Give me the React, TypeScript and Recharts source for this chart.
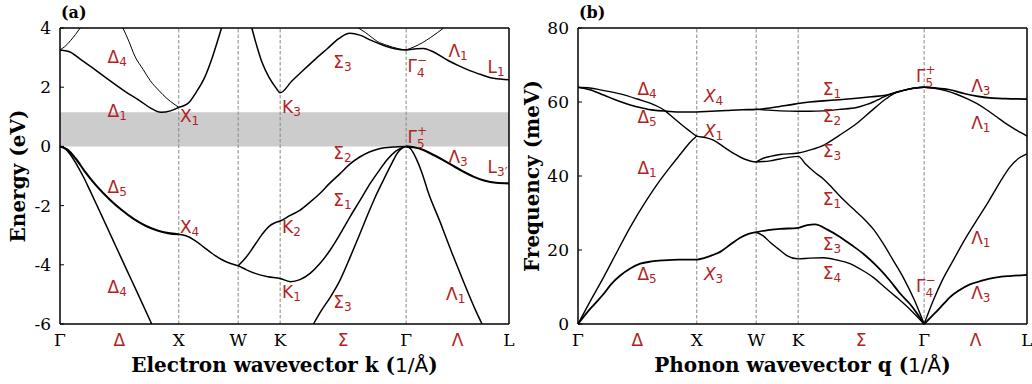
import React from "react";
import {
  LineChart,
  Line,
  XAxis,
  YAxis,
  ReferenceArea,
  ReferenceDot,
  ReferenceLine,
} from "recharts";

type Pt = [number, number];

// high-symmetry path of the fcc zone, distances in units of 2π/a
const G1 = 0;
const X = 1;
const W = 1.5;
const K = W + Math.SQRT2 / 4;
const G2 = K + (3 * Math.SQRT2) / 4;
const L = G2 + Math.sqrt(3) / 2;

const pathTicks = [G1, (G1 + X) / 2, X, W, K, (K + G2) / 2, G2, (G2 + L) / 2, L];
const pathLabels = ["Γ", "Δ", "X", "W", "K", "Σ", "Γ", "Λ", "L"];
const lineLabels = ["Δ", "Σ", "Λ"];
const symPoints = [X, W, K, G2];

// (a) electron bands, eV
const elecTicks = [-6, -4, -2, 0, 2, 4];
const elecGap: Pt = [0, 1.15];

const elecCond1: Pt[] = [[0, 3.26], [0.08, 3.2], [0.17, 2.95], [0.3, 2.58], [0.42, 2.22], [0.55, 1.85], [0.67, 1.55], [0.76, 1.3], [0.85, 1.15], [0.93, 1.2], [1, 1.32]];
const elecCond1Up: Pt[] = [[0, 3.26], [0.04, 3.37], [0.09, 3.58], [0.13, 3.78], [0.17, 4.0]];
const elecCond2: Pt[] = [[0.53, 4.0], [0.58, 3.55], [0.63, 3.05], [0.7, 2.6], [0.76, 2.22], [0.83, 1.9], [0.9, 1.62], [0.96, 1.43], [1, 1.32]];
const elecCond3: Pt[] = [[1, 1.32], [1.08, 1.46], [1.15, 1.85], [1.22, 2.35], [1.29, 3.1], [1.36, 4.0]];
const elecCond4: Pt[] = [
  [1.615, 4.0], [1.66, 3.35], [1.7, 2.85], [1.76, 2.33], [1.82, 1.97], [K, 1.81],
  [1.95, 2.2], [2.05, 2.58], [2.15, 2.95], [2.25, 3.3], [2.35, 3.65], [2.44, 3.82], [2.53, 3.75], [2.62, 3.58], [2.72, 3.42], [2.82, 3.3], [G2, 3.26],
  [3.0, 3.3], [3.06, 3.31], [3.15, 3.18], [3.26, 2.92], [3.36, 2.72], [3.45, 2.56], [3.55, 2.42], [3.65, 2.3], [L, 2.25],
];
const elecCondSig: Pt[] = [[2.513, 4.0], [2.57, 3.85], [2.62, 3.7], [2.67, 3.55], [2.75, 3.42], [2.85, 3.3], [G2, 3.26]];
const elecCondLam: Pt[] = [[G2, 3.26], [2.98, 3.36], [3.05, 3.5], [3.12, 3.68], [3.18, 3.85], [3.23, 4.0]];

const elecVal1: Pt[] = [[0, 0], [0.06, -0.1], [0.13, -0.4], [0.21, -0.85], [0.3, -1.3], [0.42, -1.8], [0.52, -2.15], [0.62, -2.45], [0.72, -2.68], [0.82, -2.84], [0.91, -2.93], [1, -2.97]];
const elecVal2: Pt[] = [
  [1, -2.97], [1.06, -3.02], [1.137, -3.18], [1.21, -3.4], [1.278, -3.61], [1.36, -3.82], [1.43, -3.95], [W, -4.03],
  [1.57, -4.17], [1.643, -4.29], [1.75, -4.4], [K, -4.46],
  [1.94, -4.57], [2.02, -4.5], [2.106, -4.29], [2.19, -3.95], [2.275, -3.5], [2.36, -2.95], [2.443, -2.37], [2.53, -1.8], [2.612, -1.25], [2.69, -0.8], [2.752, -0.46], [2.83, -0.15], [G2, 0],
];
const elecVal3: Pt[] = [
  [W, -4.03], [1.56, -3.78], [1.63, -3.39], [1.7, -2.98], [1.76, -2.7], [1.81, -2.58], [K, -2.52],
  [1.93, -2.35], [2.022, -2.15], [2.1, -1.9], [2.19, -1.58], [2.27, -1.25], [2.36, -0.91], [2.44, -0.6], [2.527, -0.35], [2.61, -0.18], [2.696, -0.07], [2.8, -0.02], [G2, 0],
];
const elecVal4: Pt[] = [[0, 0], [0.05, -0.1], [0.1, -0.35], [0.15, -0.68], [0.2, -1.05], [0.25, -1.47], [0.35, -2.33], [0.45, -3.2], [0.55, -4.07], [0.65, -4.93], [0.772, -6.0]];
const elecVal5: Pt[] = [[2.134, -6.0], [2.2, -5.55], [2.275, -5.1], [2.36, -4.5], [2.443, -3.74], [2.52, -3.0], [2.584, -2.37], [2.65, -1.75], [2.724, -1.13], [2.79, -0.6], [2.836, -0.25], [2.88, -0.06], [G2, 0]];
const elecVal6: Pt[] = [[G2, 0], [2.95, -0.07], [3.0, -0.42], [3.05, -0.92], [3.1, -1.55], [3.2, -2.55], [3.3, -3.6], [3.4, -4.6], [3.5, -5.55], [3.553, -6.0]];
const elecVal7: Pt[] = [[G2, 0], [2.98, -0.03], [3.06, -0.12], [3.15, -0.3], [3.23, -0.47], [3.32, -0.68], [3.4, -0.86], [3.48, -1.02], [3.57, -1.15], [3.67, -1.23], [L, -1.25]];

// (b) phonon branches, meV
const phTicks = [0, 20, 40, 60, 80];

const phOpt1: Pt[] = [
  [0, 64], [0.1, 63.8], [0.2, 63.2], [0.356, 62.2], [0.5, 60.8], [0.636, 59.3], [0.734, 57.6], [0.8, 55.8], [0.86, 54.2], [0.93, 52.4], [1, 50.8],
  [1.07, 50.4], [1.14, 49.7], [1.23, 47.8], [1.31, 46.1], [1.4, 44.6], [W, 43.8], [1.56, 43.9], [1.617, 44.1], [1.7, 44.6], [K, 45.3],
  [1.92, 43.1], [2.0, 40.8], [2.066, 39.2], [2.14, 36.8], [2.206, 34.5], [2.3, 31.6], [2.402, 28.6], [2.49, 25.5], [2.57, 21.7], [2.65, 17.4], [2.738, 12.6], [2.83, 6.6], [G2, 0],
];
const phLA: Pt[] = [[0, 0], [0.1, 6.0], [0.215, 12.6], [0.33, 19.6], [0.44, 26.2], [0.58, 33.6], [0.69, 38.8], [0.78, 42.6], [0.87, 46.2], [0.94, 49.0], [1, 50.8]];
const phOpt2: Pt[] = [[W, 43.8], [1.56, 44.8], [1.617, 45.3], [1.7, 45.8], [K, 46.2], [1.95, 47.0], [2.066, 48.3], [2.2, 51.0], [2.346, 54.2], [2.47, 57.6], [2.6, 61.0], [2.68, 62.6], [2.767, 63.3], [2.84, 63.8], [G2, 64]];
const phOpt3: Pt[] = [
  [0, 64], [0.1, 63.3], [0.215, 61.9], [0.33, 60.4], [0.44, 59.2], [0.54, 58.4], [0.636, 57.8], [0.75, 57.5], [0.87, 57.3], [1, 57.3],
  [1.12, 57.5], [1.25, 57.7], [1.38, 57.9], [W, 58.0], [1.6, 58.3], [1.7, 58.8], [1.8, 59.3], [K, 59.6],
  [1.95, 60.0], [2.066, 60.3], [2.2, 60.6], [2.346, 61.0], [2.47, 61.4], [2.6, 61.9], [2.7, 62.8], [2.8, 63.6], [G2, 64],
];
const phOpt4: Pt[] = [[W, 58.0], [1.6, 57.8], [1.7, 57.6], [K, 57.5], [1.95, 57.5], [2.066, 57.6], [2.2, 58.0], [2.346, 58.5], [2.42, 59.2], [2.486, 60.0], [2.55, 61.0], [2.62, 62.0], [2.7, 62.8], [2.8, 63.6], [G2, 64]];
const phOptL3: Pt[] = [[G2, 64], [3.0, 63.8], [3.131, 63.3], [3.25, 62.3], [3.356, 61.6], [3.467, 61.1], [3.6, 60.9], [L, 60.8]];
const phOptL1: Pt[] = [[G2, 64], [3.0, 63.7], [3.1, 63.0], [3.187, 62.1], [3.27, 61.0], [3.356, 59.6], [3.44, 57.9], [3.524, 56.0], [3.61, 54.0], [3.692, 52.4], [L, 50.8]];
const phLAL: Pt[] = [[G2, 0], [2.99, 6.3], [3.07, 12.0], [3.159, 17.2], [3.26, 23.0], [3.356, 28.0], [3.46, 33.3], [3.552, 38.3], [3.636, 42.4], [3.72, 45.0], [L, 46.0]];
const phTAL: Pt[] = [[G2, 0], [2.97, 1.8], [3.02, 3.4], [3.08, 5.5], [3.13, 7.2], [3.2, 8.9], [3.3, 10.7], [3.4, 11.7], [3.524, 12.6], [3.65, 13.0], [L, 13.3]];
const phTA1: Pt[] = [
  [0, 0], [0.1, 4.0], [0.215, 8.1], [0.28, 10.8], [0.356, 13.1], [0.44, 15.0], [0.524, 16.3], [0.62, 16.9], [0.72, 17.2], [0.85, 17.4], [1, 17.4],
  [1.06, 17.8], [1.13, 18.6], [1.197, 19.5], [1.28, 21.4], [1.365, 23.3], [1.43, 24.3], [W, 24.8], [1.6, 25.4], [1.7, 25.7], [K, 26.0],
  [1.93, 26.7], [1.996, 26.9], [2.1, 25.5], [2.206, 23.5], [2.3, 21.4], [2.402, 19.0], [2.52, 15.5], [2.627, 11.7], [2.71, 8.3], [2.795, 5.4], [2.86, 2.6], [G2, 0],
];
const phTA2: Pt[] = [[W, 24.8], [1.56, 23.8], [1.617, 22.1], [1.69, 20.2], [1.758, 18.5], [K, 17.6], [1.95, 17.8], [2.066, 17.9], [2.18, 17.3], [2.29, 16.3], [2.39, 14.6], [2.486, 12.6], [2.58, 10.0], [2.683, 7.2], [2.8, 3.8], [G2, 0]];

// irreducible-representation labels
type Mark = { k: number; v: number; base: string; sub: string; sup?: string; italic?: boolean };

const elecMarks: Mark[] = [
  { k: 0.4, v: 2.82, base: "Δ", sub: "4" },
  { k: 0.4, v: 0.99, base: "Δ", sub: "1" },
  { k: 1.01, v: 0.83, base: "X", sub: "1" },
  { k: 1.87, v: 1.13, base: "K", sub: "3" },
  { k: 2.3, v: 2.65, base: "Σ", sub: "3" },
  { k: 2.925, v: 2.52, base: "Γ", sub: "4", sup: "−" },
  { k: 3.27, v: 3.01, base: "Λ", sub: "1" },
  { k: 3.6, v: 2.49, base: "L", sub: "1" },
  { k: 2.925, v: 0.11, base: "Γ", sub: "5", sup: "+" },
  { k: 2.3, v: -0.43, base: "Σ", sub: "2" },
  { k: 3.27, v: -0.56, base: "Λ", sub: "3" },
  { k: 3.6, v: -0.9, base: "L", sub: "3′" },
  { k: 0.4, v: -1.56, base: "Δ", sub: "5" },
  { k: 2.3, v: -2.01, base: "Σ", sub: "1" },
  { k: 1.01, v: -2.94, base: "X", sub: "4" },
  { k: 1.87, v: -2.94, base: "K", sub: "2" },
  { k: 0.4, v: -4.96, base: "Δ", sub: "4" },
  { k: 1.87, v: -5.13, base: "K", sub: "1" },
  { k: 2.3, v: -5.46, base: "Σ", sub: "3" },
  { k: 3.25, v: -5.19, base: "Λ", sub: "1" },
];

const phMarks: Mark[] = [
  { k: 0.5, v: 61.9, base: "Δ", sub: "4" },
  { k: 1.06, v: 60.1, base: "X", sub: "4", italic: true },
  { k: 2.06, v: 61.9, base: "Σ", sub: "1" },
  { k: 2.845, v: 65.5, base: "Γ", sub: "5", sup: "+" },
  { k: 3.31, v: 62.8, base: "Λ", sub: "3" },
  { k: 0.5, v: 54.2, base: "Δ", sub: "5" },
  { k: 2.06, v: 54.6, base: "Σ", sub: "2" },
  { k: 3.31, v: 52.8, base: "Λ", sub: "1" },
  { k: 1.06, v: 50.6, base: "X", sub: "1", italic: true },
  { k: 2.06, v: 45.1, base: "Σ", sub: "3" },
  { k: 0.5, v: 40.5, base: "Δ", sub: "1" },
  { k: 2.06, v: 32.1, base: "Σ", sub: "1" },
  { k: 3.31, v: 21.7, base: "Λ", sub: "1" },
  { k: 2.06, v: 19.9, base: "Σ", sub: "3" },
  { k: 0.5, v: 11.9, base: "Δ", sub: "5" },
  { k: 1.06, v: 11.9, base: "X", sub: "3", italic: true },
  { k: 2.06, v: 12.2, base: "Σ", sub: "4" },
  { k: 2.845, v: 8.6, base: "Γ", sub: "4", sup: "−" },
  { k: 3.31, v: 6.8, base: "Λ", sub: "3" },
];

const SERIF = "'DejaVu Serif', serif";
const SANS = "'DejaVu Sans', sans-serif";
const RED = "#b22222";
const SYM_SIZE = 17;
const IDX_SIZE = 12;

const elecBands = [
  { pts: elecCond1, w: 1.5 },
  { pts: elecCond1Up, w: 1 },
  { pts: elecCond2, w: 1 },
  { pts: elecCond3, w: 1.5 },
  { pts: elecCond4, w: 1.5 },
  { pts: elecCondSig, w: 1 },
  { pts: elecCondLam, w: 1 },
  { pts: elecVal1, w: 2.1 },
  { pts: elecVal2, w: 1.5 },
  { pts: elecVal3, w: 1.5 },
  { pts: elecVal4, w: 1.5 },
  { pts: elecVal5, w: 1.5 },
  { pts: elecVal6, w: 1.5 },
  { pts: elecVal7, w: 2.1 },
];

const phBands = [
  { pts: phOpt1, w: 1.4 },
  { pts: phLA, w: 1.4 },
  { pts: phOpt2, w: 1.4 },
  { pts: phOpt3, w: 1.6 },
  { pts: phOpt4, w: 1.4 },
  { pts: phOptL3, w: 1.7 },
  { pts: phOptL1, w: 1.4 },
  { pts: phLAL, w: 1.4 },
  { pts: phTAL, w: 1.8 },
  { pts: phTA1, w: 1.8 },
  { pts: phTA2, w: 1.4 },
];

const toRows = (pts: Pt[]) => pts.map(([k, v]) => ({ k, v }));

const glyphW: Record<string, number> = { "Γ": 0.557, "Δ": 0.684, "Σ": 0.632, "Λ": 0.684, X: 0.685, K: 0.656, L: 0.557 };

function Sym({ cx, cy, m }: { cx: number; cy: number; m: Mark }) {
  if (m.sup) {
    const w = (glyphW[m.base] ?? 0.65) * SYM_SIZE;
    return (
      <g fill={RED} fontFamily={SANS}>
        <text x={cx} y={cy} fontSize={SYM_SIZE}>{m.base}</text>
        <text x={cx + w} y={cy - 8} fontSize={IDX_SIZE}>{m.sup}</text>
        <text x={cx + w} y={cy + 5} fontSize={IDX_SIZE}>{m.sub}</text>
      </g>
    );
  }
  return (
    <text x={cx} y={cy} fontSize={SYM_SIZE} fill={RED} fontFamily={SANS} fontStyle={m.italic ? "italic" : "normal"}>
      {m.base}
      <tspan fontSize={IDX_SIZE} dy={3} fontStyle="normal">{m.sub}</tspan>
    </text>
  );
}

function PathTick({ x, y, payload }: any) {
  const i = pathTicks.findIndex((t) => Math.abs(t - payload.value) < 1e-6);
  const label = pathLabels[i] ?? "";
  const red = lineLabels.includes(label);
  return (
    <text x={x} y={y + 22} textAnchor="middle" fontSize={17} fill={red ? RED : "#000"} fontFamily={red ? SANS : SERIF}>
      {label}
    </text>
  );
}

function XTitle({ viewBox, lead, sym }: any) {
  const { x, y, width } = viewBox;
  return (
    <text x={x + width / 2} y={y + 48} textAnchor="middle" fontFamily={SERIF} fontWeight="bold" fontSize={20} fill="#000">
      {lead}{sym} (<tspan fontFamily={SANS} fontWeight="normal">1/Å</tspan>)
    </text>
  );
}

function YTitle({ viewBox, heading, panel, baseX }: any) {
  const { x, y, width, height } = viewBox;
  const cx = x + baseX;
  const cy = y + height / 2;
  return (
    <g>
      <text x={cx} y={cy} transform={`rotate(-90 ${cx} ${cy})`} textAnchor="middle" fontFamily={SERIF} fontWeight="bold" fontSize={20} fill="#000">
        {heading}
      </text>
      <text x={x + width + 1} y={y - 10} fontFamily={SERIF} fontWeight="bold" fontSize={16} fill="#000">
        {panel}
      </text>
    </g>
  );
}

interface PanelProps {
  bands: { pts: Pt[]; w: number }[];
  marks: Mark[];
  yTicks: number[];
  gap?: Pt;
  yWidth: number;
  right: number;
  heading: string;
  panel: string;
  titleX: number;
  lead: string;
  sym: string;
}

function Panel({ bands, marks, yTicks, gap, yWidth, right, heading, panel, titleX, lead, sym }: PanelProps) {
  const domain: [number, number] = [yTicks[0], yTicks[yTicks.length - 1]];
  return (
    <LineChart width={516} height={384} margin={{ top: 28, right, bottom: 0, left: 0 }}>
      <XAxis
        type="number"
        dataKey="k"
        domain={[G1, L]}
        ticks={pathTicks}
        interval={0}
        height={60}
        tickLine={false}
        tickSize={0}
        tickMargin={0}
        tick={<PathTick />}
        axisLine={{ stroke: "#000", strokeWidth: 1.5 }}
        label={<XTitle lead={lead} sym={sym} />}
      />
      <YAxis
        type="number"
        domain={domain}
        ticks={yTicks}
        interval={0}
        width={yWidth}
        tickSize={-4}
        tickMargin={13}
        tickLine={{ stroke: "#000", strokeWidth: 1 }}
        tick={{ fontSize: 17, fill: "#000", fontFamily: SERIF }}
        axisLine={{ stroke: "#000", strokeWidth: 1.5 }}
        label={<YTitle heading={heading} panel={panel} baseX={titleX} />}
      />
      <YAxis
        yAxisId="r"
        orientation="right"
        type="number"
        domain={domain}
        ticks={yTicks}
        interval={0}
        width={1}
        tickSize={-4}
        tickLine={{ stroke: "#000", strokeWidth: 1 }}
        tick={() => null}
        axisLine={{ stroke: "#000", strokeWidth: 1.5 }}
      />
      {gap && <ReferenceArea y1={gap[0]} y2={gap[1]} fill="#cccccc" fillOpacity={1} stroke="none" />}
      {symPoints.map((p) => (
        <ReferenceLine key={p} x={p} stroke="#888" strokeWidth={1} strokeDasharray="3.5 2" />
      ))}
      <ReferenceLine y={domain[1]} stroke="#000" strokeWidth={1.5} />
      {bands.map((b, i) => (
        <Line
          key={i}
          data={toRows(b.pts)}
          dataKey="v"
          type="monotone"
          stroke="#000"
          strokeWidth={b.w}
          dot={false}
          activeDot={false}
          isAnimationActive={false}
        />
      ))}
      {marks.map((m, i) => (
        <ReferenceDot
          key={`m${i}`}
          x={m.k}
          y={m.v}
          r={0}
          shape={(p: any) => <Sym cx={p.cx} cy={p.cy} m={m} />}
        />
      ))}
    </LineChart>
  );
}

export default function App() {
  return (
    <div style={{ position: "absolute", left: 0, top: 0, width: 1032, height: 384, display: "flex", background: "#fff" }}>
      <Panel
        bands={elecBands}
        marks={elecMarks}
        yTicks={elecTicks}
        gap={elecGap}
        yWidth={60}
        right={6}
        heading="Energy (eV)"
        panel="(a)"
        titleX={25}
        lead="Electron wavevector "
        sym="k"
      />
      <Panel
        bands={phBands}
        marks={phMarks}
        yTicks={phTicks}
        yWidth={62}
        right={4}
        heading="Frequency (meV)"
        panel="(b)"
        titleX={23}
        lead="Phonon wavevector "
        sym="q"
      />
    </div>
  );
}
